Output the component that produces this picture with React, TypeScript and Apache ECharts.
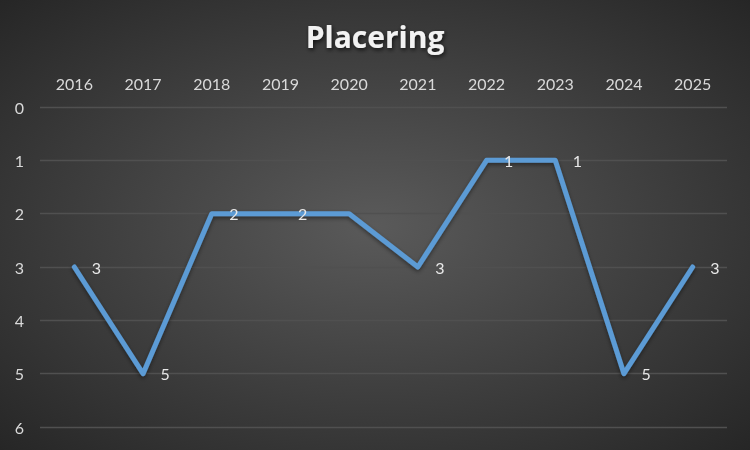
import React, { useEffect, useRef } from "react";
import * as echarts from "echarts";

const years = ["2016", "2017", "2018", "2019", "2020", "2021", "2022", "2023", "2024", "2025"];
const placering = [3, 5, 2, 2, 2, 3, 1, 1, 5, 3];
const showLabel = [true, true, true, true, false, true, true, true, true, true];
const titleText = "Placering";

const FONT = 'Lato, "Open Sans", sans-serif';

export default function App() {
  const ref = useRef<HTMLDivElement>(null);
  useEffect(() => {
    if (!ref.current) return;
    const chart = echarts.init(ref.current, undefined, { renderer: "svg" });
    chart.setOption({
      animation: false,
      backgroundColor: new echarts.graphic.RadialGradient(0.5, 0.5, 0.75, [
        { offset: 0, color: "#5a5a5a" },
        { offset: 1, color: "#232323" },
      ]),
      title: {
        text: titleText,
        left: "center",
        top: 16,
        textStyle: {
          color: "#f2f2f2",
          fontSize: 30,
          fontWeight: "bold",
          fontFamily: '"Open Sans", sans-serif',
          textShadowColor: "rgba(0,0,0,0.7)",
          textShadowBlur: 4,
          textShadowOffsetX: 1,
          textShadowOffsetY: 2,
        },
      },
      grid: { left: 40, right: 23, top: 107, bottom: 23, containLabel: false },
      xAxis: {
        type: "category",
        position: "top",
        data: years,
        boundaryGap: true,
        axisLine: { show: false },
        axisTick: { show: false },
        axisLabel: { color: "#d9d9d9", fontSize: 16, fontFamily: FONT, margin: 16 },
        splitLine: { show: false },
      },
      yAxis: {
        type: "value",
        inverse: true,
        min: 0,
        max: 6,
        interval: 1,
        axisLine: { show: false },
        axisTick: { show: false },
        axisLabel: { color: "#d9d9d9", fontSize: 16, fontFamily: FONT, margin: 16 },
        splitLine: { lineStyle: { color: "#505050", width: 1.3 } },
      },
      series: [
        {
          type: "line",
          data: placering.map((v, i) => ({ value: v, label: { show: showLabel[i] } })),
          symbol: "circle",
          symbolSize: 1,
          showSymbol: true,
          itemStyle: { color: "#5b9bd5" },
          lineStyle: {
            color: "#5b9bd5",
            width: 5,
            cap: "round",
            join: "round",
            shadowColor: "rgba(0,0,0,0.45)",
            shadowBlur: 4,
            shadowOffsetY: 2,
          },
          label: {
            show: true,
            position: "right",
            distance: 17,
            color: "#e8e8e8",
            fontSize: 16,
            fontFamily: FONT,
          },
        },
      ],
    });
    return () => chart.dispose();
  }, []);
  return <div ref={ref} style={{ position: "fixed", left: 0, top: 0, width: 750, height: 450 }} />;
}
